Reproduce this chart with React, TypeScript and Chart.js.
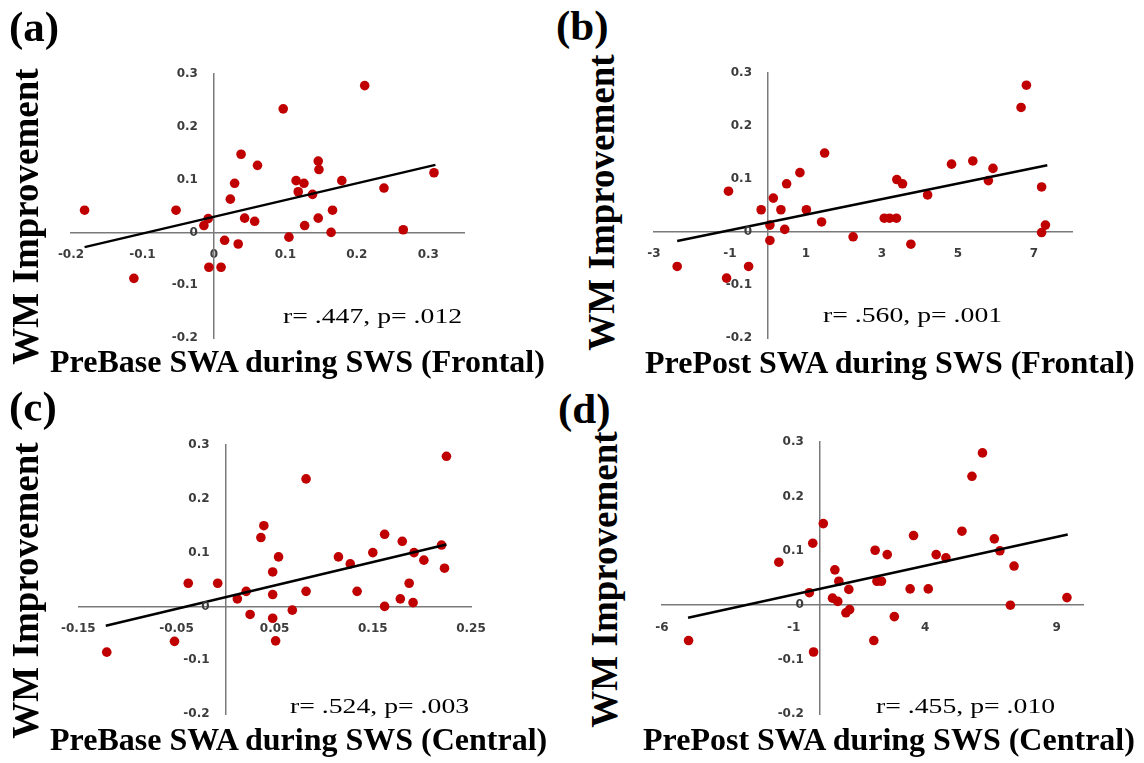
import React, { useEffect, useRef } from 'react';
import { Chart, registerables } from 'chart.js';

Chart.register(...registerables);

// ---------- Data ----------
// (a) PreBase SWA during SWS (Frontal)
const aSWA = [-0.181, -0.112, -0.053, -0.014, -0.008, -0.007, 0.010, 0.015, 0.023, 0.029, 0.034, 0.038, 0.043, 0.057, 0.061, 0.097, 0.105, 0.115, 0.126, 0.118, 0.127, 0.138, 0.146, 0.147, 0.146, 0.166, 0.164, 0.179, 0.211, 0.238, 0.265, 0.308];
const aWM = [0.042, -0.087, 0.042, 0.013, 0.026, -0.066, -0.066, -0.015, 0.063, 0.093, -0.022, 0.148, 0.027, 0.021, 0.127, 0.234, -0.009, 0.098, 0.093, 0.077, 0.013, 0.072, 0.135, 0.119, 0.027, 0.042, 0.000, 0.098, 0.278, 0.084, 0.005, 0.113];
const aTrendX = [-0.181, 0.31];
const aTrendY = [-0.028, 0.128];

// (b) PrePost SWA during SWS (Frontal)
const bSWA = [-2.39, -1.09, -1.04, -0.51, -0.18, 0.05, 0.05, 0.14, 0.34, 0.44, 0.49, 0.84, 1.01, 1.41, 1.49, 2.24, 3.06, 3.20, 3.38, 3.39, 3.54, 3.76, 4.20, 4.83, 5.39, 5.80, 5.92, 6.66, 6.80, 7.20, 7.20, 7.30];
const bWM = [-0.065, -0.087, 0.077, -0.065, 0.042, 0.013, -0.016, 0.064, 0.042, 0.005, 0.091, 0.112, 0.042, 0.019, 0.149, -0.009, 0.026, 0.026, 0.026, 0.099, 0.091, -0.023, 0.070, 0.128, 0.134, 0.097, 0.120, 0.235, 0.277, 0.085, -0.001, 0.013];
const bTrendX = [-2.39, 7.35];
const bTrendY = [-0.017, 0.126];

// (c) PreBase SWA during SWS (Central)
const cSWA = [-0.121, -0.052, -0.038, -0.008, 0.012, 0.021, 0.025, 0.036, 0.039, 0.048, 0.048, 0.048, 0.051, 0.054, 0.068, 0.082, 0.082, 0.115, 0.127, 0.134, 0.150, 0.162, 0.162, 0.178, 0.180, 0.187, 0.191, 0.192, 0.202, 0.220, 0.223, 0.225];
const cWM = [-0.085, -0.065, 0.043, 0.043, 0.014, 0.028, -0.015, 0.128, 0.150, 0.064, 0.022, -0.022, -0.064, 0.092, -0.007, 0.028, 0.237, 0.092, 0.079, 0.028, 0.100, 0.134, 0.000, 0.014, 0.121, 0.043, 0.007, 0.100, 0.086, 0.114, 0.071, 0.279];
const cTrendX = [-0.122, 0.225];
const cTrendY = [-0.036, 0.115];

// (d) PrePost SWA during SWS (Central)
const dSWA = [-4.99, -1.56, -0.40, -0.27, -0.24, 0.13, 0.48, 0.57, 0.68, 0.72, 0.99, 1.10, 1.13, 2.05, 2.10, 2.17, 2.34, 2.56, 2.83, 3.43, 3.56, 4.12, 4.42, 4.79, 5.40, 5.78, 6.18, 6.63, 6.84, 7.24, 7.38, 9.39];
const dWM = [-0.065, 0.079, 0.023, 0.114, -0.086, 0.150, 0.013, 0.065, 0.007, 0.044, -0.014, 0.029, -0.008, -0.065, 0.101, 0.044, 0.044, 0.093, -0.021, 0.030, 0.128, 0.030, 0.093, 0.087, 0.136, 0.237, 0.280, 0.122, 0.100, 0.000, 0.072, 0.014];
const dTrendX = [-5.01, 9.42];
const dTrendY = [-0.023, 0.130];

// Ticks
const wmTicks = [-0.2, -0.1, 0, 0.1, 0.2, 0.3];
const wmTickLabels = ['-0.2', '-0.1', '0', '0.1', '0.2', '0.3'];
const aTicks = [-0.2, -0.1, 0, 0.1, 0.2, 0.3];
const aTickLabels = ['-0.2', '-0.1', '0', '0.1', '0.2', '0.3'];
const bTicks = [-3, -1, 1, 3, 5, 7];
const bTickLabels = ['-3', '-1', '1', '3', '5', '7'];
const cTicks = [-0.15, -0.05, 0.05, 0.15, 0.25];
const cTickLabels = ['-0.15', '-0.05', '0.05', '0.15', '0.25'];
const dTicks = [-6, -1, 4, 9];
const dTickLabels = ['-6', '-1', '4', '9'];

const panelLetters = ['(a)', '(b)', '(c)', '(d)'];
const yTitle = 'WM Improvement';
const xTitles = [
  'PreBase SWA during SWS (Frontal)',
  'PrePost SWA during SWS (Frontal)',
  'PreBase SWA during SWS (Central)',
  'PrePost SWA during SWS (Central)',
];
const stats = ['r= .447, p= .012', 'r= .560, p= .001', 'r= .524, p= .003', 'r= .455, p= .010'];

// ---------- Layout ----------
const PAD = 30;
const SERIF = "'Liberation Serif', 'Times New Roman', serif";
const TICK_FAMILY = "'DejaVu Sans', sans-serif";
const TICK_COLOR = '#3c3c3c';
const AXIS_COLOR = '#7a7a7a';

// y tick labels drawn beside the vertical axis (which crosses at x = 0)
const yLabelPlugin = {
  id: 'yLabelsBesideAxis',
  afterDraw(chart: any) {
    const { ctx, scales } = chart;
    const px = scales.x.getPixelForValue(0) - 16;
    ctx.save();
    ctx.font = `bold 12px ${TICK_FAMILY}`;
    ctx.fillStyle = TICK_COLOR;
    ctx.textAlign = 'right';
    ctx.textBaseline = 'middle';
    wmTicks.forEach((v, i) => ctx.fillText(wmTickLabels[i], px, scales.y.getPixelForValue(v)));
    ctx.restore();
  },
};

type PanelProps = {
  area: { left: number; top: number; right: number; bottom: number };
  xs: number[]; ys: number[]; tx: number[]; ty: number[];
  xMin: number; xMax: number;
  xTicks: number[]; xLabels: string[];
};

function Panel({ area, xs, ys, tx, ty, xMin, xMax, xTicks, xLabels }: PanelProps) {
  const ref = useRef<HTMLCanvasElement>(null);
  const w = Math.round(area.right - area.left) + PAD * 2;
  const h = Math.round(area.bottom - area.top) + PAD * 2;
  useEffect(() => {
    const tickFont = { family: TICK_FAMILY, size: 12, weight: 'bold' as const };
    const chart = new Chart(ref.current!, {
      type: 'scatter',
      data: {
        datasets: [
          {
            type: 'line',
            data: tx.map((x, i) => ({ x, y: ty[i] })),
            borderColor: '#000000',
            borderWidth: 2.4,
            pointRadius: 0,
            fill: false,
          } as any,
          {
            type: 'scatter',
            data: xs.map((x, i) => ({ x, y: ys[i] })),
            backgroundColor: '#C00000',
            borderWidth: 0,
            pointRadius: 4.8,
          },
        ],
      },
      options: {
        responsive: false,
        animation: false,
        devicePixelRatio: 1,
        layout: { padding: PAD },
        plugins: { legend: { display: false }, tooltip: { enabled: false } },
        scales: {
          x: {
            type: 'linear',
            min: xMin,
            max: xMax,
            position: { y: 0 } as any,
            afterBuildTicks: (s: any) => { s.ticks = xTicks.map((v) => ({ value: v })); },
            ticks: {
              callback: (_v: any, i: number) => xLabels[i],
              font: tickFont,
              color: TICK_COLOR,
              padding: 15,
              maxRotation: 0,
              autoSkip: false,
            },
            grid: { display: false, drawTicks: false },
            border: { display: true, color: AXIS_COLOR, width: 1.5 },
          },
          y: {
            type: 'linear',
            min: -0.2,
            max: 0.3,
            position: { x: 0 } as any,
            afterBuildTicks: (s: any) => { s.ticks = wmTicks.map((v) => ({ value: v })); },
            ticks: { display: false },
            grid: { display: false, drawTicks: false },
            border: { display: true, color: AXIS_COLOR, width: 1.5 },
          },
        },
      },
      plugins: [yLabelPlugin],
    });
    return () => chart.destroy();
  }, []);
  return (
    <canvas
      ref={ref}
      width={w}
      height={h}
      style={{ position: 'absolute', left: area.left - PAD, top: area.top - PAD, width: w, height: h }}
    />
  );
}

function Txt({ x, baseline, size, bold, children, scaleX }: any) {
  return (
    <div
      style={{
        position: 'absolute',
        left: x,
        top: baseline - 0.8375 * size,
        fontFamily: SERIF,
        fontSize: size,
        lineHeight: 1,
        fontWeight: bold ? 'bold' : 'normal',
        whiteSpace: 'nowrap',
        color: '#000',
        transformOrigin: 'left center',
        transform: scaleX ? `scaleX(${scaleX})` : undefined,
      }}
    >
      {children}
    </div>
  );
}

function VTitle({ cx, cy }: { cx: number; cy: number }) {
  const size = 37;
  const L = 320;
  return (
    <div
      style={{
        position: 'absolute',
        left: cx - L / 2,
        top: cy - size / 2,
        width: L,
        height: size,
        lineHeight: `${size}px`,
        fontSize: size,
        fontFamily: SERIF,
        fontWeight: 'bold',
        textAlign: 'center',
        whiteSpace: 'nowrap',
        transform: 'rotate(-90deg)',
        color: '#000',
      }}
    >
      {yTitle}
    </div>
  );
}

export default function App() {
  return (
    <div style={{ position: 'absolute', left: 0, top: 0, width: 1144, height: 763, overflow: 'hidden', background: '#fff' }}>
      <Panel area={{ left: 71, top: 74, right: 463.5, bottom: 338 }} xs={aSWA} ys={aWM} tx={aTrendX} ty={aTrendY} xMin={-0.2} xMax={0.35} xTicks={aTicks} xLabels={aTickLabels} />
      <Panel area={{ left: 654, top: 73, right: 1071.5, bottom: 338 }} xs={bSWA} ys={bWM} tx={bTrendX} ty={bTrendY} xMin={-3} xMax={8} xTicks={bTicks} xLabels={bTickLabels} />
      <Panel area={{ left: 76, top: 445, right: 471, bottom: 714 }} xs={cSWA} ys={cWM} tx={cTrendX} ty={cTrendY} xMin={-0.15} xMax={0.25} xTicks={cTicks} xLabels={cTickLabels} />
      <Panel area={{ left: 662, top: 442, right: 1083, bottom: 714 }} xs={dSWA} ys={dWM} tx={dTrendX} ty={dTrendY} xMin={-6} xMax={10} xTicks={dTicks} xLabels={dTickLabels} />

      <Txt x={9} baseline={41} size={43} bold>{panelLetters[0]}</Txt>
      <Txt x={556} baseline={40} size={43} bold>{panelLetters[1]}</Txt>
      <Txt x={9} baseline={421} size={43} bold>{panelLetters[2]}</Txt>
      <Txt x={558} baseline={423} size={43} bold>{panelLetters[3]}</Txt>

      <VTitle cx={25} cy={216} />
      <VTitle cx={601} cy={202} />
      <VTitle cx={25} cy={590} />
      <VTitle cx={604} cy={579} />

      <Txt x={50} baseline={372} size={32} bold>{xTitles[0]}</Txt>
      <Txt x={645} baseline={373} size={32} bold>{xTitles[1]}</Txt>
      <Txt x={50} baseline={750} size={32} bold>{xTitles[2]}</Txt>
      <Txt x={643} baseline={750} size={32} bold>{xTitles[3]}</Txt>

      <Txt x={283} baseline={323} size={22} scaleX={1.26}>{stats[0]}</Txt>
      <Txt x={823} baseline={322} size={22} scaleX={1.26}>{stats[1]}</Txt>
      <Txt x={290} baseline={713} size={22} scaleX={1.26}>{stats[2]}</Txt>
      <Txt x={876} baseline={713} size={22} scaleX={1.26}>{stats[3]}</Txt>
    </div>
  );
}
